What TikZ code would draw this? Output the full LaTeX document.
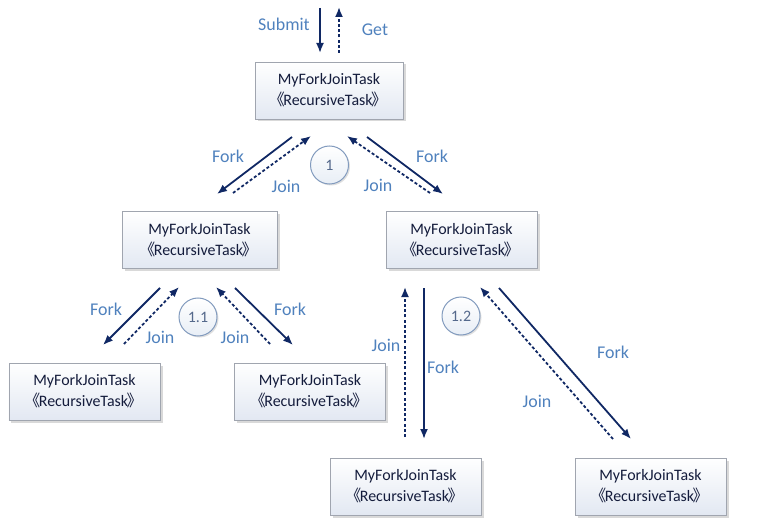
\documentclass[tikz,border=0pt]{standalone}
\usepackage{fontspec}
\setmainfont{Carlito}
\newfontfamily\cjk{Noto Sans CJK SC}
\usetikzlibrary{arrows.meta,shadows}
\definecolor{arrowc}{RGB}{16,40,100}
\definecolor{labc}{RGB}{79,129,189}
\definecolor{boxtxt}{RGB}{20,28,60}
\definecolor{boxbd}{RGB}{160,165,175}
\definecolor{boxbot}{RGB}{226,232,242}
\definecolor{circbd}{RGB}{130,155,190}
\definecolor{circbot}{RGB}{232,238,246}
\definecolor{circtxt}{RGB}{85,105,140}
\newcommand{\rt}{MyForkJoinTask\\{\cjk\hspace{-2bp}《\hspace{-1.5bp}}RecursiveTask{\cjk\hspace{-1.5bp}》\hspace{-2bp}}}
\begin{document}
\begin{tikzpicture}[x=1bp,y=-1bp,
 task/.style={draw=boxbd, line width=0.8bp, top color=white, bottom color=boxbot,
   minimum width=151bp, minimum height=57bp, align=center, text=boxtxt, inner sep=0pt,
   font=\fontsize{16}{21}\selectfont,
   drop shadow={shadow xshift=2.5bp,shadow yshift=-2.5bp,opacity=0.3,fill=gray}},
 lbl/.style={text=labc, font=\fontsize{18}{20}\selectfont, inner sep=0pt},
 stepcirc/.style={circle, draw=circbd, line width=1bp, top color=white, bottom color=circbot,
   minimum size=38bp, inner sep=0pt, text=circtxt, font=\fontsize{16}{18}\selectfont,
   drop shadow={shadow xshift=1.5bp,shadow yshift=-1.5bp,opacity=0.25,fill=gray}},
 fk/.style={draw=arrowc, line width=1.8bp, -{Latex[length=10bp,width=8bp]}},
 jn/.style={fk, dash pattern=on 3bp off 2.2bp}
]
\useasboundingbox (0,0) rectangle (765,526);

% task boxes
\node[task, minimum width=148bp] (t0) at (329,90.5) {\rt};
\node[task, minimum width=155bp] (t1) at (199.5,240) {\rt};
\node[task] (t2) at (461.5,240) {\rt};
\node[task] (t11) at (84.5,391.5) {\rt};
\node[task] (t12) at (310,391.5) {\rt};
\node[task] (t21) at (405.5,486.5) {\rt};
\node[task] (t22) at (650.5,486.5) {\rt};

% step circles
\node[stepcirc] (c1) at (329.5,165) {1};
\node[stepcirc] (c11) at (198,317) {1.1};
\node[stepcirc] (c12) at (461,316) {1.2};

% coordinates for arrow ends
\coordinate (sa) at (320,8);   \coordinate (sb) at (320,53);
\coordinate (ga) at (339,53);  \coordinate (gb) at (339,7);
\coordinate (f1a) at (292,137); \coordinate (f1b) at (217,194);
\coordinate (j1a) at (233,193); \coordinate (j1b) at (311,136);
\coordinate (f2a) at (367,137); \coordinate (f2b) at (443,194);
\coordinate (j2a) at (430,193); \coordinate (j2b) at (347,136);
\coordinate (f3a) at (160,288); \coordinate (f3b) at (103,345);
\coordinate (j3a) at (124,344); \coordinate (j3b) at (179,287);
\coordinate (f4a) at (235,288); \coordinate (f4b) at (293,345);
\coordinate (j4a) at (270,344); \coordinate (j4b) at (216,287);
\coordinate (j5a) at (405,437); \coordinate (j5b) at (405,287);
\coordinate (f5a) at (424,288); \coordinate (f5b) at (424,439);
\coordinate (j6a) at (613,439); \coordinate (j6b) at (480,287);
\coordinate (f6a) at (499,288); \coordinate (f6b) at (631,439);

\draw[fk] (sa) -- (sb);
\draw[jn] (ga) -- (gb);
\draw[fk] (f1a) -- (f1b);
\draw[jn] (j1a) -- (j1b);
\draw[fk] (f2a) -- (f2b);
\draw[jn] (j2a) -- (j2b);
\draw[fk] (f3a) -- (f3b);
\draw[jn] (j3a) -- (j3b);
\draw[fk] (f4a) -- (f4b);
\draw[jn] (j4a) -- (j4b);
\draw[jn] (j5a) -- (j5b);
\draw[fk] (f5a) -- (f5b);
\draw[jn] (j6a) -- (j6b);
\draw[fk] (f6a) -- (f6b);

% labels
\node[lbl] (lsub) at (284,24) {Submit};
\node[lbl] (lget) at (375,30) {Get};
\node[lbl] (lf1) at (228,156) {Fork};
\node[lbl] (lj1) at (286,186) {Join};
\node[lbl] (lj2) at (378,185) {Join};
\node[lbl] (lf2) at (432,156) {Fork};
\node[lbl] (lf3) at (106,309) {Fork};
\node[lbl] (lj3) at (160,337) {Join};
\node[lbl] (lj4) at (235,337) {Join};
\node[lbl] (lf4) at (290,309) {Fork};
\node[lbl] (lj5) at (386,345) {Join};
\node[lbl] (lf5) at (443,367) {Fork};
\node[lbl] (lf6) at (613,352) {Fork};
\node[lbl] (lj6) at (537,401) {Join};
\end{tikzpicture}
\end{document}
